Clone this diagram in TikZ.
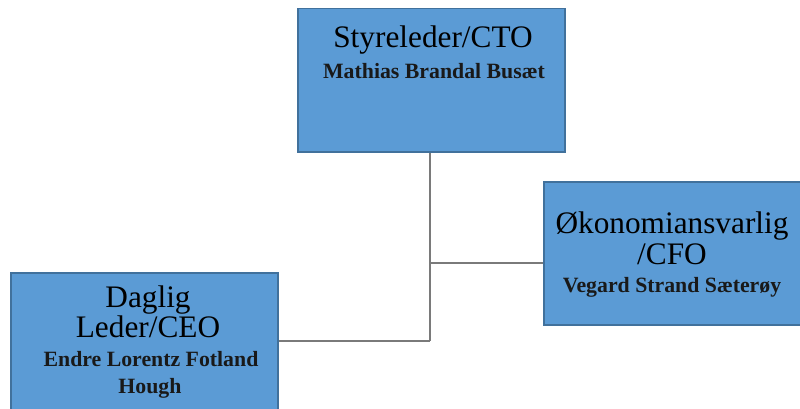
\documentclass[tikz,border=0pt]{standalone}
\usepackage{fontspec}
\setmainfont{Liberation Serif}
\definecolor{boxfill}{HTML}{5B9BD5}
\definecolor{boxline}{HTML}{41719C}
\definecolor{connline}{HTML}{7A7A7A}
\tikzset{
  orgbox/.style={draw=boxline, fill=boxfill, line width=1.5pt, inner sep=0pt, anchor=north west},
  titletext/.style={anchor=base, inner sep=0pt, font=\fontsize{31.3}{31}\selectfont, text=black},
  nametext/.style={anchor=base, inner sep=0pt, font=\fontsize{21.8}{21}\selectfont\bfseries, text=black!90},
  conn/.style={draw=connline, line width=2pt}
}
\begin{document}
\begin{tikzpicture}[x=1pt,y=-1pt]
\useasboundingbox (0,0) rectangle (800,409);
% boxes
\node[orgbox, minimum width=267pt, minimum height=143pt] (top) at (297,8) {};
\node[orgbox, minimum width=260pt, minimum height=143pt] (right) at (543,181) {};
\node[orgbox, minimum width=267pt, minimum height=142pt] (left) at (10,272) {};
% connectors
\coordinate (j1) at (430,263);
\coordinate (j2) at (430,341);
\draw[conn] (top.south -| j1) -- (j2);
\draw[conn] (j1) -- (right.west |- j1);
\draw[conn] (left.east |- j2) -- (j2);
% texts
\node[titletext] (t1) at (433,48) {Styreleder/CTO};
\node[nametext] (n1) at (434,79) {Mathias Brandal Busæt};
\node[titletext] (t2a) at (672,233) {Økonomiansvarlig};
\node[titletext] (t2b) at (672,264) {/CFO};
\node[nametext] (n2) at (672,292) {Vegard Strand Sæterøy};
\node[titletext] (t3a) at (148,307) {Daglig};
\node[titletext] (t3b) at (148,337) {Leder/CEO};
\node[nametext] (n3a) at (151,366) {Endre Lorentz Fotland};
\node[nametext] (n3b) at (150,393) {Hough};
\end{tikzpicture}
\end{document}
